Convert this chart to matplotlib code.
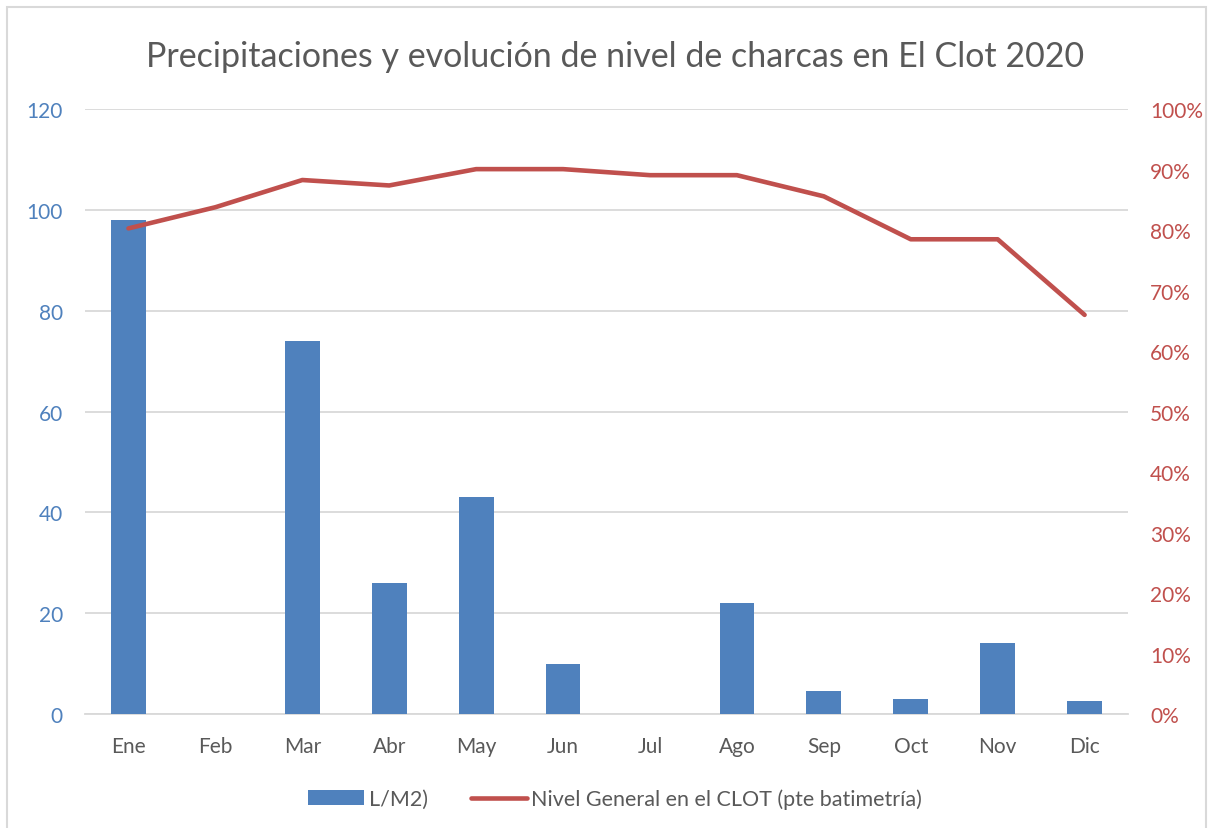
import numpy as np
import matplotlib
matplotlib.use("Agg")
import matplotlib.pyplot as plt
from matplotlib.patches import Rectangle
from matplotlib.ticker import PercentFormatter

plt.rcParams['font.family'] = ['Lato', 'DejaVu Sans']

# data
meses = ['Ene', 'Feb', 'Mar', 'Abr', 'May', 'Jun', 'Jul', 'Ago', 'Sep', 'Oct', 'Nov', 'Dic']
lluvia = [98, 0, 74, 26, 43, 10, 0, 22, 4.5, 3, 14, 2.5]
nivel = [80.3, 83.8, 88.3, 87.4, 90.1, 90.1, 89.1, 89.1, 85.6, 78.5, 78.5, 66.0]

azul = '#4F81BD'
rojo = '#C0504D'
gris = '#595959'

fig = plt.figure(figsize=(12.11, 8.29), dpi=100)
ax1 = fig.add_axes([0.0702, 0.1375, 0.8613, 0.7295])
ax2 = ax1.twinx()

x = np.arange(len(meses))
b = ax1.bar(x, lluvia, width=0.4, color=azul, label='L/M2)', zorder=3)
l, = ax2.plot(x, nivel, color=rojo, lw=3.3, solid_capstyle='round', label='Nivel General en el CLOT (pte batimetría)', zorder=4)

ax1.set_xlim(-0.5, len(meses) - 0.5)
ax1.set_ylim(0, 120)
ax1.set_yticks(range(0, 121, 20))
ax2.set_ylim(0, 100)
ax2.set_yticks(range(0, 101, 10))
ax2.yaxis.set_major_formatter(PercentFormatter(decimals=0))

ax1.set_xticks(x)
ax1.set_xticklabels(meses)
ax1.grid(axis='y', color='#D9D9D9', lw=1.3, zorder=0)
ax1.set_axisbelow(True)

for a in (ax1, ax2):
    for s in a.spines.values():
        s.set_visible(False)
ax1.spines['bottom'].set_visible(True)
ax1.spines['bottom'].set_color('#D9D9D9')
ax1.spines['bottom'].set_linewidth(1.3)

ax1.tick_params(axis='y', length=0, pad=16, labelsize=15, labelcolor=azul)
ax1.tick_params(axis='x', length=0, pad=16, labelsize=15, labelcolor=gris)
ax2.tick_params(axis='y', length=0, pad=16, labelsize=15, labelcolor=rojo)

fig.text(0.508, 0.931, 'Precipitaciones y evolución de nivel de charcas en El Clot 2020',
         ha='center', va='center', fontsize=24.5, color=gris)

fig.legend(handles=[b, l], loc='center', bbox_to_anchor=(0.508, 0.035), ncol=2,
           frameon=False, fontsize=15.5, labelcolor=gris, handlelength=2.6,
           columnspacing=2.0, handletextpad=0.2)

fig.patches.append(Rectangle((0.006, -0.01), 0.99, 1.0, transform=fig.transFigure,
                             fill=False, edgecolor='#D9D9D9', lw=1.5))

fig.savefig('out.png', dpi=100, facecolor='white')
